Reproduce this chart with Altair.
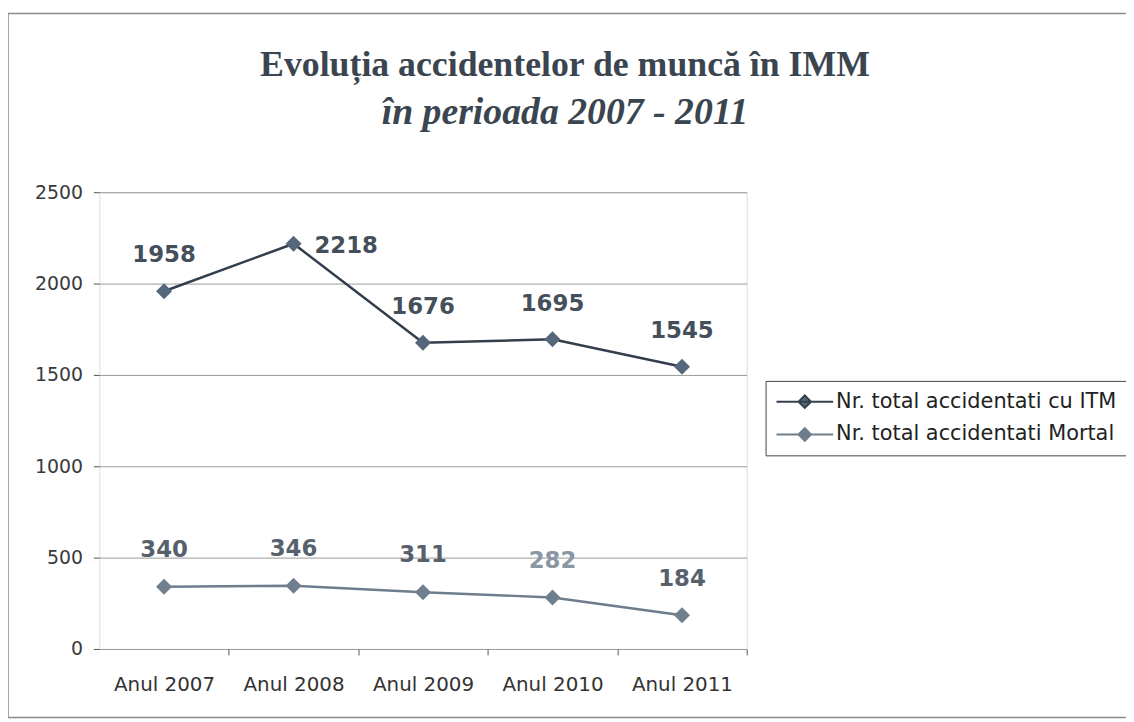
import altair as alt
import pandas as pd

# ---- data ----
years = ["Anul 2007", "Anul 2008", "Anul 2009", "Anul 2010", "Anul 2011"]
itm_values = [1958, 2218, 1676, 1695, 1545]
mortal_values = [340, 346, 311, 282, 184]
series_names = ["Nr. total accidentati cu ITM", "Nr. total accidentati Mortal"]
y_ticks = [0, 500, 1000, 1500, 2000, 2500]

df = pd.DataFrame({
    "an": years * 2,
    "valoare": itm_values + mortal_values,
    "serie": [series_names[0]] * len(years) + [series_names[1]] * len(years),
})

SANS = "DejaVu Sans"
SERIF = "Liberation Serif"
STEP = 652 / 5

x_enc = alt.X(
    "an:N", sort=years,
    scale=alt.Scale(type="point", padding=0.5),
    axis=alt.Axis(title=None, labelAngle=0, domain=False, grid=False,
                  ticks=True, tickSize=6, tickColor="#555555",
                  tickOffset=STEP / 2, labelOffset=-STEP / 2,
                  labelFont=SANS, labelFontSize=20, labelColor="#333333",
                  labelPadding=20),
)
y_enc = alt.Y(
    "valoare:Q",
    scale=alt.Scale(domain=[0, 2500], nice=False),
    axis=alt.Axis(title=None, values=y_ticks, format="d", domain=False, grid=True,
                  gridColor="#9a9a9a", gridWidth=1,
                  ticks=True, tickSize=6, tickColor="#555555",
                  labelFont=SANS, labelFontSize=19, labelColor="#3a3a3a",
                  labelPadding=11),
)

base = alt.Chart(df)

lines = base.mark_line(strokeWidth=2.5).encode(
    x=x_enc, y=y_enc,
    color=alt.Color(
        "serie:N",
        scale=alt.Scale(domain=series_names, range=["#333e4c", "#6d7d8c"]),
        legend=alt.Legend(
            title=None, orient="none", legendX=671, legendY=190,
            strokeColor="#444444", fillColor="white", padding=10,
            labelFont=SANS, labelFontSize=21, labelColor="#222222",
            labelLimit=500, labelOffset=2, rowPadding=11, clipHeight=22,
            symbolType="M-1,0H1M-0.22,0L0,-0.22L0.22,0L0,0.22Z",
            symbolSize=3249, symbolStrokeWidth=2,
            symbolFillColor="#71838f",
        ),
    ),
)

points = base.mark_point(shape="diamond", filled=True, size=260, opacity=1).encode(
    x=x_enc, y=y_enc,
    fill=alt.Fill("serie:N", scale=alt.Scale(domain=series_names,
                                             range=["#55677a", "#6f7f8d"]), legend=None),
)

is_itm = alt.datum.serie == series_names[0]
labels_itm = base.mark_text(font=SANS, fontSize=23, fontWeight="bold",
                            color="#454f5b", dy=-36).encode(
    x=x_enc, y=y_enc, text="valoare:Q"
).transform_filter(is_itm).transform_filter(alt.datum.an != years[1])

labels_itm_peak = base.mark_text(font=SANS, fontSize=23, fontWeight="bold",
                                 color="#454f5b", dx=53, dy=2).encode(
    x=x_enc, y=y_enc, text="valoare:Q"
).transform_filter(is_itm).transform_filter(alt.datum.an == years[1])

labels_mortal = base.mark_text(font=SANS, fontSize=23, fontWeight="bold", dy=-37).encode(
    x=x_enc, y=y_enc, text="valoare:Q",
    color=alt.condition(alt.datum.an == years[3], alt.value("#8a96a2"), alt.value("#56616c")),
).transform_filter(alt.datum.serie == series_names[1])

frame = alt.Chart(pd.DataFrame({"f": [0]})).mark_rect(
    fill="transparent", stroke="#8a8a8a", strokeWidth=1.5
).encode(x=alt.value(-92), x2=alt.value(1044), y=alt.value(-180), y2=alt.value(529))

chart = alt.layer(frame, lines, points, labels_itm, labels_itm_peak, labels_mortal).properties(
    width=652, height=460,
    title=alt.Title(
        text="Evoluția accidentelor de muncă în IMM",
        subtitle="în perioada 2007 - 2011",
        font=SERIF, fontSize=36, fontWeight="bold", color="#3a4550",
        subtitleFont=SERIF, subtitleFontSize=38, subtitleFontStyle="italic",
        subtitleFontWeight="bold", subtitleColor="#3a4550",
        subtitlePadding=10, anchor="middle", frame="group",
        dx=143, offset=0, dy=121,
    ),
    autosize=alt.AutoSizeParams(type="none"),
    padding={"left": 92, "top": 183, "right": 382, "bottom": 71},
).configure_view(
    fill="#e8eaf3", stroke="#6f6f6f", strokeWidth=1.5
).configure(background="white")

chart.save("out.html", embed_options={"renderer": "svg", "actions": False})
